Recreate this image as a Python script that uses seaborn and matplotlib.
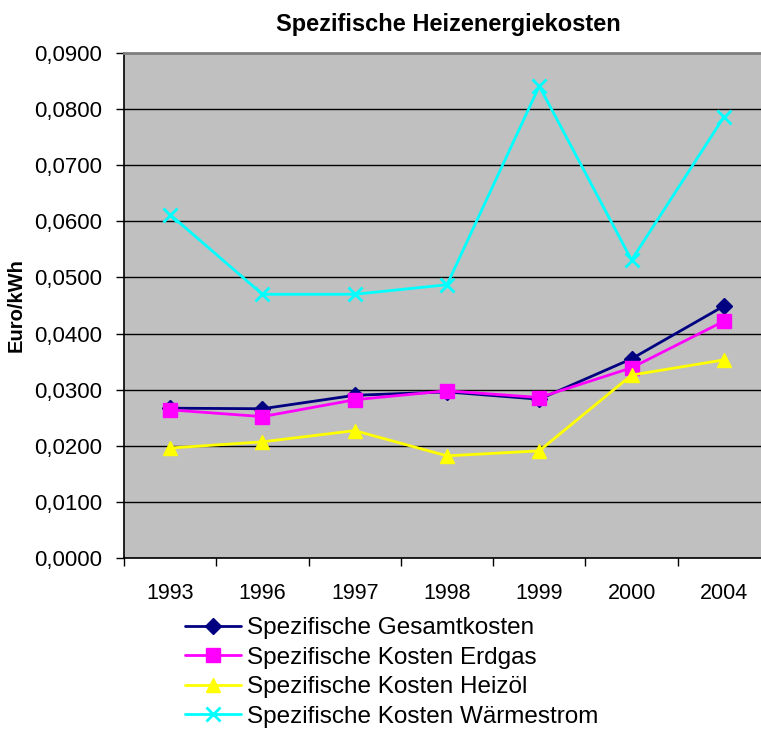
import pandas as pd
import matplotlib
matplotlib.use('Agg')
import matplotlib.pyplot as plt
from matplotlib.ticker import FixedLocator, FuncFormatter
import seaborn as sns

years = ['1993', '1996', '1997', '1998', '1999', '2000', '2004']
gesamt = [0.0267, 0.0266, 0.0290, 0.0296, 0.0283, 0.0355, 0.0449]
erdgas = [0.0264, 0.0252, 0.0282, 0.0298, 0.0286, 0.0339, 0.0422]
heizoel = [0.0196, 0.0207, 0.0227, 0.0182, 0.0191, 0.0326, 0.0353]
waermestrom = [0.0612, 0.0470, 0.0470, 0.0487, 0.0841, 0.0531, 0.0786]

series = [
    ('Spezifische Gesamtkosten', gesamt, '#000080', 'D', 8),
    ('Spezifische Kosten Erdgas', erdgas, '#FF00FF', 's', 10),
    ('Spezifische Kosten Heizöl', heizoel, '#FFFF00', '^', 10),
    ('Spezifische Kosten Wärmestrom', waermestrom, '#00FFFF', 'x', 10),
]

sns.set_style('white')
plt.rcParams['font.family'] = ['Liberation Sans', 'DejaVu Sans']
plt.rcParams['text.color'] = 'black'
plt.rcParams['xtick.color'] = 'black'
plt.rcParams['ytick.color'] = 'black'
plt.rcParams['axes.labelcolor'] = 'black'

fig = plt.figure(figsize=(7.61, 7.29), dpi=100)
ax = fig.add_axes([124 / 761, 1 - 558 / 729, 646 / 761, 505 / 729])
ax.set_facecolor('#C0C0C0')

for name, vals, col, mk, ms in series:
    df = pd.DataFrame({'Jahr': years, 'Wert': vals})
    sns.lineplot(data=df, x='Jahr', y='Wert', ax=ax, color=col, marker=mk,
                 markersize=ms, markeredgecolor=col, markeredgewidth=2 if mk == 'x' else 1,
                 linewidth=2, label=name, sort=False)

ax.set_xlim(-0.5, len(years) - 0.5)
ax.set_ylim(0, 0.09)
ax.yaxis.set_major_locator(FixedLocator([i * 0.01 for i in range(10)]))
ax.yaxis.set_major_formatter(FuncFormatter(lambda v, p: f'{v:.4f}'.replace('.', ',')))
ax.grid(axis='y', color='black', linewidth=1)
ax.grid(axis='x', visible=False)
ax.set_axisbelow(True)

ax.set_xticks(range(len(years)))
ax.set_xticklabels(years)
ax.xaxis.set_minor_locator(FixedLocator([i - 0.5 for i in range(len(years) + 1)]))
ax.tick_params(axis='x', which='major', length=0, pad=18, labelsize=15.5)
ax.tick_params(axis='x', which='minor', length=6, width=1, color='black', direction='out', bottom=True)
ax.tick_params(axis='y', which='major', length=6, width=1, color='black', direction='out', left=True,
               labelsize=16, pad=10)

for side in ['left', 'bottom']:
    ax.spines[side].set_color('black')
    ax.spines[side].set_linewidth(1.2)
for side in ['top', 'right']:
    ax.spines[side].set_color('#808080')
    ax.spines[side].set_linewidth(2)

ax.set_xlabel('')
ax.set_ylabel('Euro/kWh', fontsize=14.5, fontweight='bold', labelpad=6)

fig.text(448 / 761, 1 - 24 / 729, 'Spezifische Heizenergiekosten', ha='center', va='center',
         fontsize=17, fontweight='bold')

ax.legend(loc='upper left', bbox_to_anchor=(185 / 761, 1 - 617 / 729), bbox_transform=fig.transFigure,
          frameon=False, fontsize=17.5, handlelength=2.3, handletextpad=0.25, labelspacing=0.31,
          borderaxespad=0, borderpad=0)

fig.savefig('out.png', dpi=100)
